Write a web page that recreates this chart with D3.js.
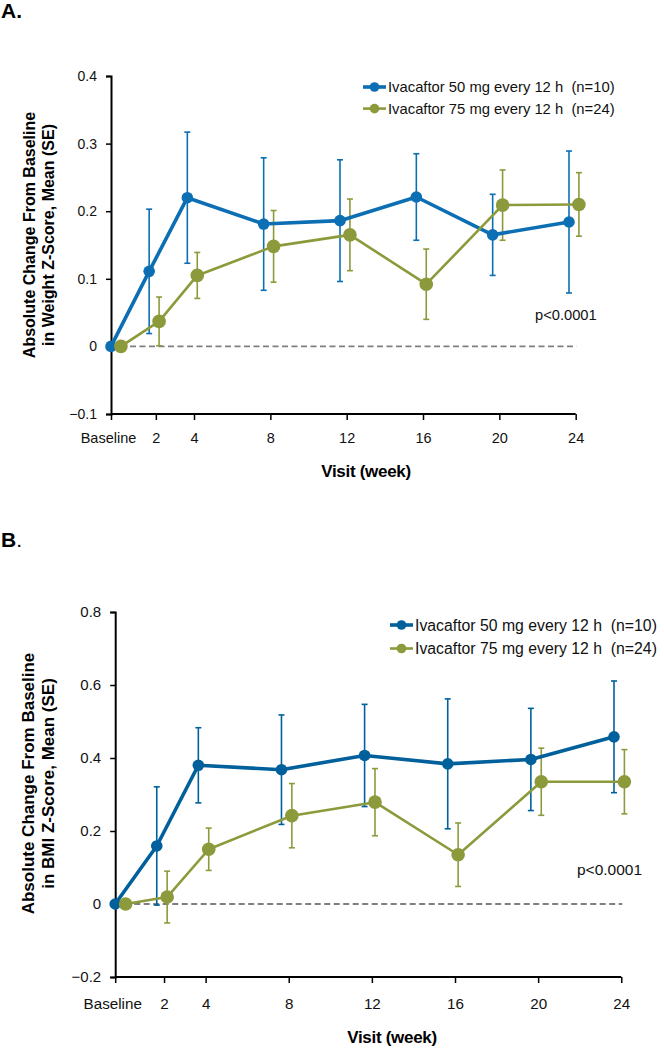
<!DOCTYPE html>
<html><head><meta charset="utf-8">
<script src="https://cdn.jsdelivr.net/npm/d3@7"></script>
<style>
body{margin:0;background:#fff;}
svg{display:block;font-family:"Liberation Sans",Arial,sans-serif;}
</style></head>
<body><svg id="c" width="664" height="1050"></svg>
<script>
// ---- data ----
const weeks = [0, 2, 4, 8, 12, 16, 20, 24];
const tickLabels = ["Baseline", "2", "4", "8", "12", "16", "20", "24"];
const seriesNames = ["Ivacaftor 50 mg every 12 h  (n=10)", "Ivacaftor 75 mg every 12 h  (n=24)"];

const weightMean50 = [0, 0.111, 0.220, 0.181, 0.186, 0.221, 0.165, 0.184];
const weightSE50   = [0, 0.092, 0.097, 0.098, 0.090, 0.064, 0.060, 0.105];
const weightMean75 = [0, 0.037, 0.105, 0.148, 0.165, 0.092, 0.209, 0.210];
const weightSE75   = [0, 0.036, 0.034, 0.053, 0.053, 0.052, 0.052, 0.047];

const bmiMean50 = [0, 0.159, 0.380, 0.368, 0.407, 0.384, 0.396, 0.458];
const bmiSE50   = [0, 0.162, 0.103, 0.150, 0.140, 0.178, 0.140, 0.153];
const bmiMean75 = [0, 0.019, 0.150, 0.242, 0.279, 0.135, 0.335, 0.335];
const bmiSE75   = [0, 0.071, 0.058, 0.088, 0.092, 0.087, 0.092, 0.088];

const weightTicks = [-0.1, 0, 0.1, 0.2, 0.3, 0.4];
const bmiTicks = [-0.2, 0, 0.2, 0.4, 0.6, 0.8];
const pText = "p<0.0001";

// ---- drawing ----
const svg = d3.select("#c");
const green = "#8d9a3b";

function panel(cfg) {
  const g = svg.append("g");
  const x = d3.scaleLinear().domain([0, 24]).range([cfg.left, cfg.right]);
  const y = d3.scaleLinear().domain([cfg.ticks[0], cfg.ticks[cfg.ticks.length - 1]]).range([cfg.bottom, cfg.top]);
  const xTick = w => w === 0 ? x(0) : x(w + cfg.tickShift);
  const xEnd = xTick(24);

  // panel letter
  const lt = g.append("text").attr("x", 1).attr("y", cfg.letterY)
    .attr("font-size", 21).attr("font-weight", "bold").attr("fill", "#000");
  lt.append("tspan").text(cfg.letter);
  lt.append("tspan").attr("font-weight", cfg.letter === "B" ? "normal" : "bold").text(".");

  // zero dashed line
  g.append("line").attr("x1", x(0)).attr("x2", xEnd + 1)
    .attr("y1", y(0)).attr("y2", y(0))
    .attr("stroke", "#7f7f7f").attr("stroke-width", 1.8).attr("stroke-dasharray", "6,3.5");

  // y axis
  const ya = d3.axisLeft(y).tickValues(cfg.ticks).tickSize(5).tickPadding(9)
    .tickFormat(d => d === 0 ? "0" : d3.format(".1f")(d));
  const yg = g.append("g").attr("transform", `translate(${x(0)},0)`).call(ya);
  yg.select(".domain").attr("stroke", "#000").attr("stroke-width", 2);
  yg.selectAll(".tick line").attr("stroke", "#000").attr("stroke-width", 1.5);
  yg.selectAll(".tick text").attr("font-size", cfg.fs).attr("fill", "#111")
    .attr("font-family", "'Liberation Sans',Arial,sans-serif");

  // x axis
  const xs = d3.scaleOrdinal().domain(tickLabels).range(weeks.map(xTick));
  const xa = d3.axisBottom(xs).tickSize(6).tickPadding(cfg.xPad);
  const xg = g.append("g").attr("transform", `translate(0,${y(cfg.ticks[0])})`).call(xa);
  xg.select(".domain").attr("d", `M${x(0)},0H${xEnd}`).attr("stroke", "#000").attr("stroke-width", 2.2);
  xg.selectAll(".tick line").attr("stroke", "#000").attr("stroke-width", 1.5);
  xg.selectAll(".tick text").attr("font-size", cfg.xfs).attr("fill", "#111")
    .attr("font-family", "'Liberation Sans',Arial,sans-serif")
    .attr("dx", d => d === "Baseline" ? -3 : 0);

  // x title
  g.append("text").attr("x", cfg.xTitleX).attr("y", y(cfg.ticks[0]) + cfg.xTitleDy)
    .attr("text-anchor", "middle").attr("font-size", 17).attr("font-weight", "bold")
    .attr("letter-spacing", "-0.3")
    .text("Visit (week)");

  // y title
  const cy = (cfg.top + cfg.bottom) / 2 + cfg.yTitleShift;
  [["Absolute Change From Baseline", cfg.yTitleX[0]], [cfg.yTitle2, cfg.yTitleX[1]]].forEach(([t, xx]) => {
    g.append("text").attr("transform", `translate(${xx},${cy}) rotate(-90)`)
      .attr("text-anchor", "middle").attr("font-size", cfg.yTitleFs).attr("font-weight", "bold").text(t);
  });

  // series
  const series = [
    {mean: cfg.mean50, se: cfg.se50, color: cfg.blue, shift: 0, lw: 3.6, r: 5.8, ew: 1.6},
    {mean: cfg.mean75, se: cfg.se75, color: green, shift: cfg.greenShift, lw: 2.6, r: 6.8, ew: 1.6}
  ];
  series.forEach(s => {
    const pts = weeks.map((w, i) => ({x: x(w + s.shift), m: s.mean[i], e: s.se[i]}));
    const eb = g.append("g");
    pts.filter(p => p.e > 0).forEach(p => {
      eb.append("line").attr("x1", p.x).attr("x2", p.x).attr("y1", y(p.m + p.e)).attr("y2", y(p.m - p.e))
        .attr("stroke", s.color).attr("stroke-width", s.ew);
      [p.m + p.e, p.m - p.e].forEach(v => eb.append("line").attr("x1", p.x - 3).attr("x2", p.x + 3)
        .attr("y1", y(v)).attr("y2", y(v)).attr("stroke", s.color).attr("stroke-width", s.ew));
    });
  });
  series.forEach(s => {
    const pts = weeks.map((w, i) => ({x: x(w + s.shift), m: s.mean[i]}));
    g.append("path").datum(pts).attr("fill", "none").attr("stroke", s.color).attr("stroke-width", s.lw)
      .attr("stroke-linejoin", "round")
      .attr("d", d3.line().x(p => p.x).y(p => y(p.m)));
    g.selectAll(null).data(pts).enter().append("circle")
      .attr("cx", p => p.x).attr("cy", p => y(p.m)).attr("r", s.r).attr("fill", s.color);
  });

  // legend
  series.forEach((s, i) => {
    const ly = cfg.legY + i * cfg.legDy;
    g.append("line").attr("x1", cfg.legX).attr("x2", cfg.legX + 23).attr("y1", ly).attr("y2", ly)
      .attr("stroke", s.color).attr("stroke-width", s.lw);
    g.append("circle").attr("cx", cfg.legX + 11.5).attr("cy", ly).attr("r", 4.8).attr("fill", s.color);
    g.append("text").attr("x", cfg.legX + 25).attr("y", ly + cfg.legFs * 0.36).attr("font-size", cfg.legFs)
      .attr("fill", "#111").style("white-space", "pre").text(seriesNames[i]);
  });

  // p value
  g.append("text").attr("x", cfg.pX).attr("y", cfg.pY).attr("font-size", cfg.pFs).attr("fill", "#111").text(pText);
}

panel({
  letter: "A", letterY: 18,
  left: 111, right: 569, top: 76, bottom: 414, ticks: weightTicks, tickShift: 0.35, greenShift: 0.52,
  fs: 14, xfs: 14.5, xPad: 13, xTitleX: 366, xTitleDy: 63, yTitleShift: -10,
  yTitleFs: 16, yTitleX: [35, 54],
  yTitle2: "in Weight Z-Score, Mean (SE)",
  mean50: weightMean50, se50: weightSE50, mean75: weightMean75, se75: weightSE75,
  blue: "#0c6fb4",
  legX: 363, legY: 87, legDy: 21.6, legFs: 14.8,
  pX: 535, pY: 320, pFs: 14.7
});

panel({
  letter: "B", letterY: 547,
  left: 115.2, right: 614, top: 612, bottom: 977, ticks: bmiTicks, tickShift: 0.35, greenShift: 0.5,
  fs: 15, xfs: 15.2, xPad: 15, xTitleX: 392, xTitleDy: 66, yTitleShift: -11,
  yTitleFs: 17, yTitleX: [34, 54],
  yTitle2: "in BMI Z-Score, Mean (SE)",
  mean50: bmiMean50, se50: bmiSE50, mean75: bmiMean75, se75: bmiSE75,
  blue: "#00609c",
  legX: 390, legY: 625, legDy: 23.5, legFs: 15.8,
  pX: 577, pY: 875, pFs: 15.5
});
</script></body></html>
